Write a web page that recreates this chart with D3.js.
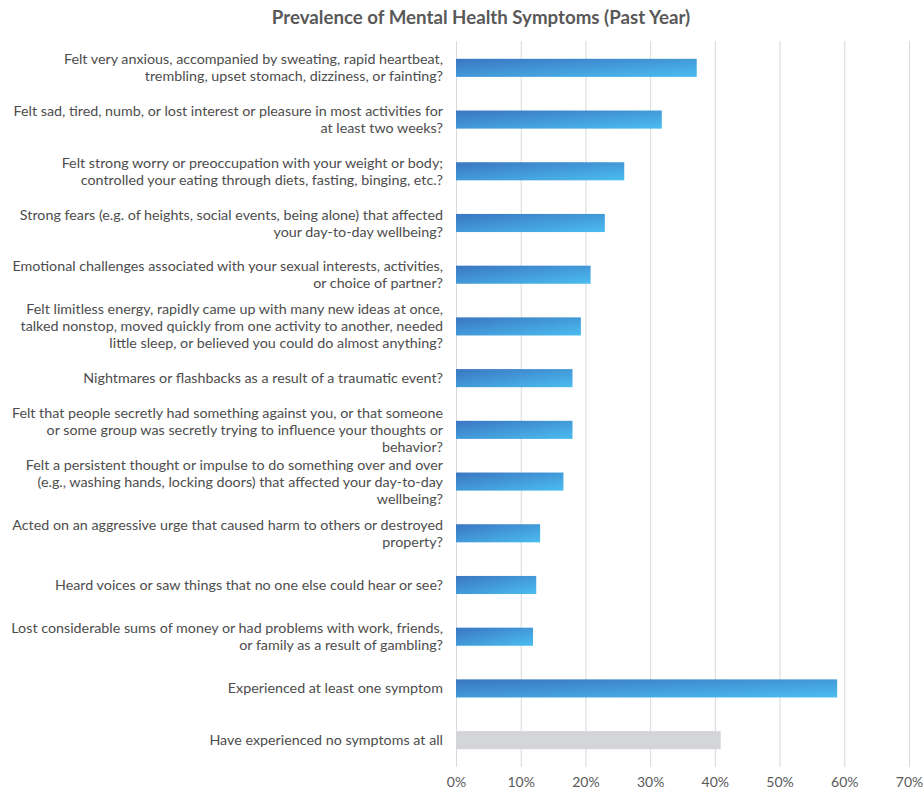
<!DOCTYPE html>
<html>
<head>
<meta charset="utf-8">
<script src="https://cdn.jsdelivr.net/npm/d3@7"></script>
<style>
  html, body { margin: 0; padding: 0; background: #fff; }
  svg { display: block; font-family: Lato, "Open Sans", sans-serif; }
</style>
</head>
<body>
<svg id="chart" width="923" height="791"></svg>
<script>
// Survey items, each wrapped into display lines
const categories = [
  ["Felt very anxious, accompanied by sweating, rapid heartbeat,", "trembling, upset stomach, dizziness, or fainting?"],
  ["Felt sad, tired, numb, or lost interest or pleasure in most activities for", "at least two weeks?"],
  ["Felt strong worry or preoccupation with your weight or body;", "controlled your eating through diets, fasting, binging, etc.?"],
  ["Strong fears (e.g. of heights, social events, being alone) that affected", "your day-to-day wellbeing?"],
  ["Emotional challenges associated with your sexual interests, activities,", "or choice of partner?"],
  ["Felt limitless energy, rapidly came up with many new ideas at once,", "talked nonstop, moved quickly from one activity to another, needed", "little sleep, or believed you could do almost anything?"],
  ["Nightmares or flashbacks as a result of a traumatic event?"],
  ["Felt that people secretly had something against you, or that someone", "or some group was secretly trying to influence your thoughts or", "behavior?"],
  ["Felt a persistent thought or impulse to do something over and over", "(e.g., washing hands, locking doors) that affected your day-to-day", "wellbeing?"],
  ["Acted on an aggressive urge that caused harm to others or destroyed", "property?"],
  ["Heard voices or saw things that no one else could hear or see?"],
  ["Lost considerable sums of money or had problems with work, friends,", "or family as a result of gambling?"],
  ["Experienced at least one symptom"],
  ["Have experienced no symptoms at all"]
];

// Share of respondents (%)
const values = [37.2, 31.8, 26.0, 23.0, 20.8, 19.3, 18.0, 18.0, 16.6, 13.0, 12.4, 11.9, 58.9, 40.9];

// The final item is drawn in neutral grey
const isNeutral = [false, false, false, false, false, false, false, false, false, false, false, false, false, true];

const tickValues = [0, 10, 20, 30, 40, 50, 60, 70];
const titleText = "Prevalence of Mental Health Symptoms (Past Year)";

const svg = d3.select("#chart");
const plotTop = 42, plotBottom = 766;

const x = d3.scaleLinear().domain([0, 70]).range([456, 909]);
const y = d3.scaleBand()
  .domain(d3.range(categories.length))
  .range([plotTop, plotBottom])
  .paddingInner(0.65)
  .paddingOuter(0.325);

// Bar gradient
const defs = svg.append("defs");
const grad = defs.append("linearGradient")
  .attr("id", "barGrad")
  .attr("x1", "0").attr("y1", "0").attr("x2", "1").attr("y2", "1");
grad.append("stop").attr("offset", "0%").attr("stop-color", "#3a76c2");
grad.append("stop").attr("offset", "100%").attr("stop-color", "#4bbdef");

// Title
svg.append("text")
  .attr("x", 481)
  .attr("y", 24)
  .attr("text-anchor", "middle")
  .attr("font-weight", "bold")
  .attr("font-size", 18.7)
  .attr("fill", "#595959")
  .text(titleText);

// Vertical gridlines via axis
const xAxis = d3.axisBottom(x)
  .tickValues(tickValues)
  .tickFormat(d => d + "%")
  .tickSize(-(plotBottom - 40))
  .tickPadding(10);

const gx = svg.append("g")
  .attr("transform", `translate(0,${plotBottom + 1})`)
  .call(xAxis);
gx.select(".domain").remove();
gx.selectAll(".tick line").attr("stroke", "#d9d9d9").attr("stroke-width", 1);
gx.selectAll(".tick text")
  .attr("fill", "#595959")
  .attr("font-size", 14)
  .attr("font-family", "Lato, sans-serif");

// Bars
svg.append("g")
  .selectAll("rect")
  .data(values)
  .join("rect")
  .attr("x", x(0))
  .attr("y", (d, i) => y(i))
  .attr("width", d => x(d) - x(0))
  .attr("height", y.bandwidth())
  .attr("fill", (d, i) => isNeutral[i] ? "#d3d5d8" : "url(#barGrad)");

// Category labels, right-aligned beside the bars
const lineH = 17;
const labels = svg.append("g")
  .attr("font-size", 14.3)
  .attr("fill", "#4d4d4d")
  .attr("text-anchor", "end");

categories.forEach((lines, i) => {
  const cy = y(i) + y.bandwidth() / 2;
  const t = labels.append("text")
    .attr("x", 443)
    .attr("y", cy - (lines.length - 1) * lineH / 2);
  lines.forEach((ln, j) => {
    t.append("tspan")
      .attr("x", 443)
      .attr("dy", j === 0 ? "0.35em" : lineH)
      .text(ln);
  });
});
</script>
</body>
</html>
